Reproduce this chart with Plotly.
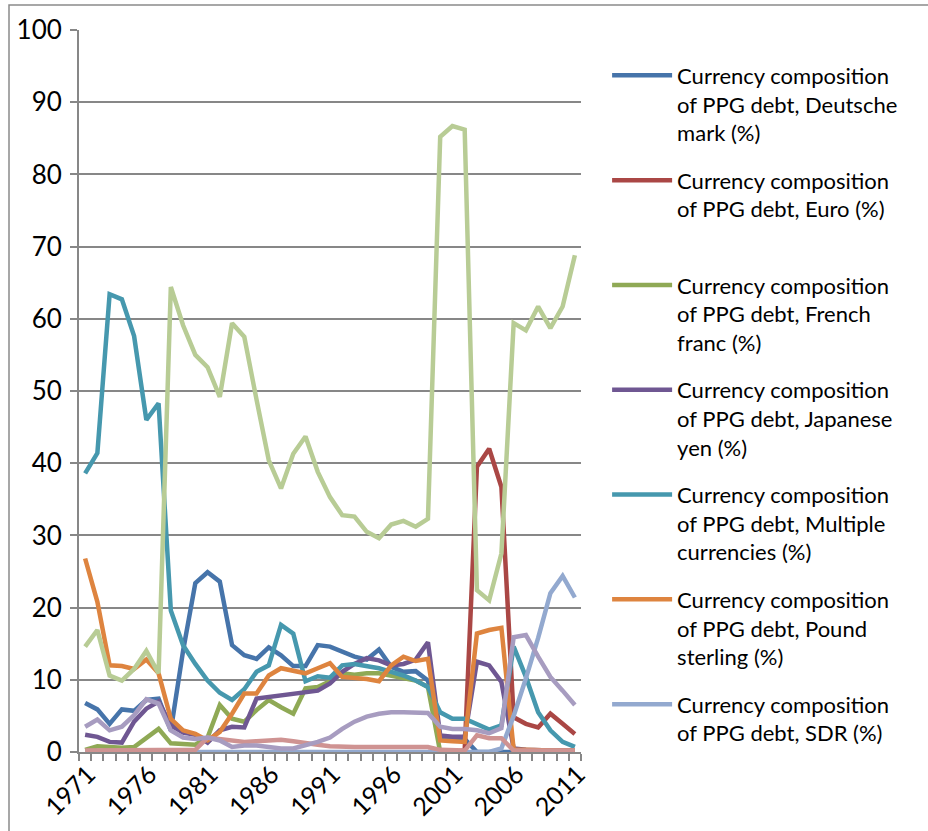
import plotly.graph_objects as go

years = list(range(1971, 2012))

deutsche_mark = [6.8, 5.9, 3.9, 5.9, 5.7, 7.2, 7.4, 3.0, 14.0, 23.4,
                 24.9, 23.6, 14.8, 13.4, 12.9, 14.5, 13.4, 11.9, 11.9, 14.8,
                 14.6, 13.9, 13.2, 12.8, 14.2, 11.8, 11.1, 11.2, 9.9,
                 2.0, 1.8, 1.8, 0, 0, 0, 0, 0, 0, 0, 0, 0]
euro = [None] * 28 + [0, 0, 0, 0.2, 39.5, 42.0, 36.7, 4.8, 3.9, 3.4, 5.3, 3.9, 2.5]
french_franc = [0.3, 0.8, 0.7, 0.6, 0.7, 2.0, 3.2, 1.2, 1.1, 1.0,
                2.0, 6.5, 4.6, 4.2, 5.8, 7.2, 6.2, 5.3, 8.8, 9.0,
                9.8, 10.9, 10.7, 10.9, 10.9, 10.6, 10.3, 9.9, 9.0,
                0.0] + [None] * 11
japanese_yen = [2.4, 2.1, 1.4, 1.3, 4.2, 6.0, 7.0, 3.7, 2.7, 2.4,
                1.3, 3.0, 3.5, 3.4, 7.4, 7.6, 7.9, 8.1, 8.3, 8.5,
                9.5, 11.1, 12.2, 13.0, 12.7, 12.0, 12.2, 12.8, 15.2,
                2.3, 2.1, 2.1, 12.5, 12.0, 9.7,
                0.5, 0.3, 0.2, 0.2, 0.2, 0.2]
multiple_currencies = [38.6, 41.4, 63.4, 62.7, 57.6, 46.0, 48.3, 19.6, 14.8, 12.2,
                       9.9, 8.2, 7.2, 8.7, 11.1, 12.0, 17.6, 16.4, 9.8, 10.5,
                       10.3, 12.0, 12.2, 11.9, 11.6, 11.1, 10.6, 9.9, 9.0,
                       5.5, 4.6, 4.6, 3.9, 3.1, 3.7,
                       14.6, 10.4, 5.5, 3.0, 1.4, 0.7]
pound_sterling = [26.8, 20.8, 12.0, 11.9, 11.5, 12.8, 10.9, 4.6, 3.0, 2.5,
                  1.6, 2.8, 5.3, 8.1, 8.1, 10.6, 11.6, 11.3, 10.9, 11.6,
                  12.3, 10.4, 10.3, 10.1, 9.8, 12.0, 13.2, 12.6, 12.9,
                  1.6, 1.5, 1.4, 16.4, 16.9, 17.2,
                  0.3, 0.3, 0.2, 0.2, 0.2, 0.2]
sdr = [0] * 34 + [0.5, 5.0, 10.2, 15.8, 22.0, 24.4, 21.4]
swiss_franc = [0.2] * 9 + [0.3,
               2.0, 1.8, 1.5, 1.4, 1.5, 1.6, 1.7, 1.5, 1.2, 1.0,
               0.8, 0.7, 0.7, 0.7, 0.7, 0.7, 0.7, 0.7, 0.7,
               0.3, 0.2, 0.2, 2.3, 1.9, 1.9,
               0.2, 0.2, 0.2, 0.2, 0.2, 0.2]
us_dollars = [14.6, 16.9, 10.6, 9.9, 11.5, 14.0, 10.9, 64.4, 59.1, 55.0,
              53.3, 49.2, 59.4, 57.5, 48.8, 40.4, 36.5, 41.3, 43.7, 38.8,
              35.3, 32.8, 32.6, 30.5, 29.6, 31.5, 32.0, 31.2, 32.3,
              85.2, 86.7, 86.2, 22.4, 21.0, 27.5,
              59.4, 58.4, 61.7, 58.7, 61.7, 68.8]
all_other = [3.5, 4.5, 3.0, 3.5, 5.1, 7.3, 6.7, 3.0, 2.0, 1.8,
             2.0, 1.6, 0.7, 0.9, 0.9, 0.7, 0.5, 0.5, 0.9, 1.4,
             2.0, 3.2, 4.2, 4.9, 5.3, 5.5, 5.5, 5.4, 5.4,
             3.5, 3.2, 3.2, 3.0, 2.6, 3.3,
             15.9, 16.2, 13.2, 10.4, 8.5, 6.5]

tick_years = [1971, 1976, 1981, 1986, 1991, 1996, 2001, 2006, 2011]
tick_labels = [str(y) for y in tick_years]

series = [
    ("Currency composition<br>of PPG debt, Deutsche<br>mark (%)", deutsche_mark, "#4674AA", True),
    ("Currency composition<br>of PPG debt, Euro (%)<br> ", euro, "#AA4745", True),
    ("Currency composition<br>of PPG debt, French<br>franc (%)", french_franc, "#8FA955", True),
    ("Currency composition<br>of PPG debt, Japanese<br>yen (%)", japanese_yen, "#6F5792", True),
    ("Currency composition<br>of PPG debt, Multiple<br>currencies (%)", multiple_currencies, "#4698AE", True),
    ("Currency composition<br>of PPG debt, Pound<br>sterling (%)", pound_sterling, "#DE843F", True),
    ("Currency composition<br>of PPG debt, SDR (%)", sdr, "#93A9CF", True),
    ("Currency composition<br>of PPG debt, Swiss franc (%)", swiss_franc, "#CF9392", False),
    ("Currency composition<br>of PPG debt, U.S. dollars (%)", us_dollars, "#B8CC95", False),
    ("Currency composition<br>of PPG debt, All other<br>currencies (%)", all_other, "#A79CC0", False),
]

fig = go.Figure()
for i, (name, vals, color, show) in enumerate(series):
    fig.add_trace(go.Scatter(
        x=years, y=vals, mode="lines", name=name,
        line=dict(color=color, width=4.5),
        showlegend=show, legendgroup="g%d" % i,
    ))

FONT = "Lato, 'DejaVu Sans', sans-serif"
axis_gray = "#878787"

fig.update_layout(
    width=928, height=831,
    margin=dict(l=79, r=347, t=30, b=79),
    paper_bgcolor="white", plot_bgcolor="white",
    font=dict(family=FONT, size=22, color="black"),
    showlegend=True,
    legend=dict(
        x=1.052, y=0.966, xanchor="left", yanchor="top",
        font=dict(family=FONT, size=22, color="black"),
        valign="top", itemwidth=60, tracegroupgap=16,
        bgcolor="rgba(0,0,0,0)",
    ),
    xaxis=dict(
        range=[1970.5, 2011.5], automargin=False,
        tickmode="array", tickvals=tick_years, ticktext=tick_labels,
        tickangle=-45, ticks="", showgrid=False, zeroline=False,
        showline=True, linecolor=axis_gray, linewidth=2,
        ticklabelshift=3, ticklabelstandoff=-4,
        tickfont=dict(family=FONT, size=25, color="black"),
        minor=dict(tickmode="array", tickvals=[1970.5 + k for k in range(42)],
                   ticks="outside", ticklen=7, tickcolor=axis_gray, tickwidth=1.5,
                   showgrid=False),
    ),
    yaxis=dict(
        range=[0, 100], tickmode="linear", tick0=0, dtick=10, automargin=False,
        showgrid=True, gridcolor=axis_gray, gridwidth=2,
        zeroline=False, showline=True, linecolor=axis_gray, linewidth=2,
        ticks="outside", ticklen=7, tickcolor=axis_gray, tickwidth=2,
        ticklabelstandoff=3,
        tickfont=dict(family=FONT, size=26, color="black"),
    ),
    shapes=[dict(type="rect", xref="paper", yref="paper",
                 x0=(9 - 79) / 502, x1=(960 - 79) / 502, y0=-0.3, y1=(751.7 - 5) / 721.7,
                 line=dict(color="#8A8A8A", width=1.5), fillcolor="rgba(0,0,0,0)",
                 layer="below")],
)

fig.write_html("out.html", config={"displayModeBar": False},
               post_script="document.body.style.margin='0px';")
